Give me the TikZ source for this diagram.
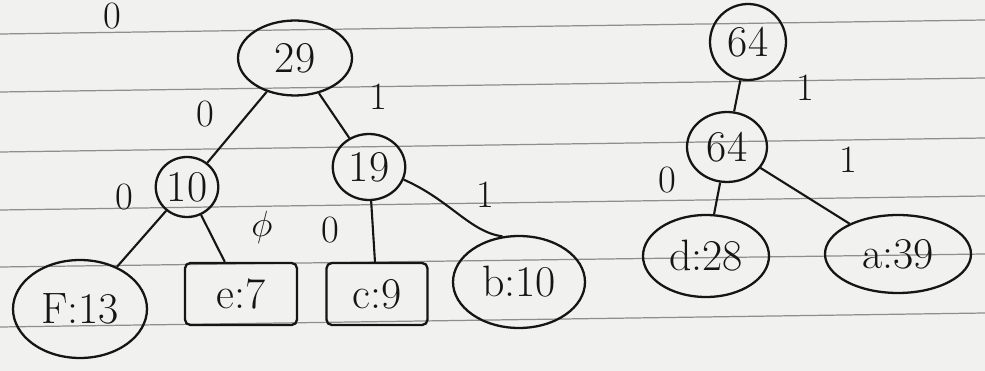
\documentclass[tikz,border=0pt]{standalone}
\usetikzlibrary{shapes.geometric}
\definecolor{paper}{HTML}{F1F1EF}
\definecolor{rule}{HTML}{8E8E8E}
\definecolor{ink}{HTML}{151515}

\begin{document}
\begin{tikzpicture}[
  x=0.02cm, y=-0.02cm,
  font=\fontsize{25}{27}\selectfont,
  inner/.style={ellipse, draw=ink, line width=1.3pt, text=ink, inner sep=0pt},
  leaf/.style={ellipse, draw=ink, line width=1.3pt, text=ink, inner sep=0pt},
  leafbox/.style={rectangle, rounded corners=3pt, draw=ink, line width=1.3pt,
                  text=ink, inner sep=0pt},
  branch/.style={draw=ink, line width=1.2pt},
  bit/.style={text=ink, inner sep=1pt, font=\fontsize{22}{24}\selectfont}
]

  % --- paper and its ruled lines ---
  \useasboundingbox (0,0) rectangle (985,371);
  \clip (0,0) rectangle (985,371);
  \fill[paper] (0,0) rectangle (985,371);
  \foreach \yl/\yr in {34/20, 92/78, 152/138, 210/196, 267/254, 327/313}
    \draw[rule, line width=0.7pt] (0,\yl) -- (985,\yr);

  % --- left tree: 29 -> 10, 19 ---
  \node[inner, minimum width=2.28cm, minimum height=1.5cm] (n29) at (295,58) {29};
  \node[inner, minimum width=1.25cm, minimum height=1.2cm] (n10) at (187,187) {10};
  \node[inner, minimum width=1.45cm, minimum height=1.32cm] (n19) at (369,167) {19};

  % leaves
  \node[leaf, minimum width=2.68cm, minimum height=1.96cm] (f13) at (80,309) {F:13};
  \node[leafbox, minimum width=2.24cm, minimum height=1.24cm] (e7) at (241,294) {e:7};
  \node[leafbox, minimum width=2.02cm, minimum height=1.24cm] (c9) at (377,294) {c:9};
  \node[leaf, minimum width=2.64cm, minimum height=1.84cm] (b10) at (519,282) {b:10};

  % --- right tree: 64 -> 64 -> d, a ---
  \node[inner, minimum width=1.52cm, minimum height=1.52cm] (top64) at (748,42) {64};
  \node[inner, minimum width=1.6cm, minimum height=1.4cm] (n64) at (727,147) {64};
  \node[leaf, minimum width=2.52cm, minimum height=1.64cm] (d28) at (706,256) {d:28};
  \node[leaf, minimum width=2.92cm, minimum height=1.56cm] (a39) at (898,254) {a:39};

  % --- branches ---
  \draw[branch] (n29) -- (n10);
  \draw[branch] (n29) -- (n19);
  \draw[branch] (n10) -- (f13);
  \draw[branch] (n10) -- (e7);
  \draw[branch] (n19) -- (c9);
  \draw[branch] (n19.-20) .. controls (450,200) and (470,232) .. (b10.110);
  \draw[branch] (top64) -- (n64);
  \draw[branch] (n64) -- (d28);
  \draw[branch] (n64) -- (a39);

  % --- bit labels ---
  \node[bit] (b0a) at (112,16) {0};
  \node[bit] (b0b) at (205,114) {0};
  \node[bit] (b1a) at (378,97) {1};
  \node[bit] (b0c) at (124,197) {0};
  \node[bit] (b0d) at (262,227) {$\phi$};
  \node[bit] (b0e) at (330,230) {0};
  \node[bit] (b1b) at (485,195) {1};
  \node[bit] (b1c) at (805,88) {1};
  \node[bit] (b1d) at (848,160) {1};
  \node[bit] (b0f) at (667,180) {0};

\end{tikzpicture}
\end{document}
